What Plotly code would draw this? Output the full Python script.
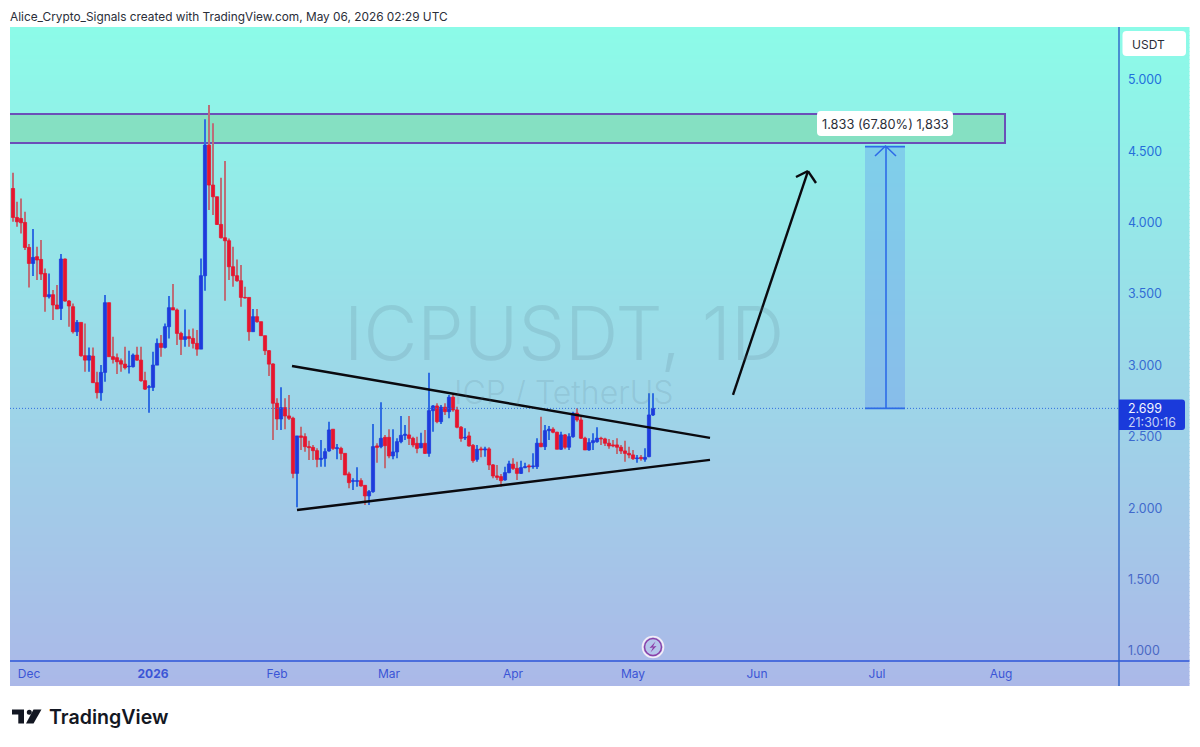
import pandas as pd
import plotly.graph_objects as go

FONT = "Inter"
first_day = "2025-11-27"

# Daily ICPUSDT candles, one row per list index
opens = [4.239,4.036,4.029,4.001,3.826,3.714,3.761,3.742,3.644,3.481,3.495,3.423,3.399,3.745,3.451,3.411,3.236,3.301,3.068,3.037,3.065,2.879,2.809,2.951,3.439,3.061,3.054,3.033,3.009,2.991,2.991,3.072,3.037,2.893,2.846,2.846,3.002,3.154,3.126,3.271,3.404,3.388,3.224,3.182,3.201,3.189,3.154,3.114,3.628,4.543,4.263,4.181,3.987,3.894,3.873,3.691,3.628,3.593,3.476,3.476,3.236,3.341,3.306,3.208,3.103,
         3.010,2.735,2.625,2.704,2.646,2.630,2.244,2.506,2.501,2.431,2.426,2.403,2.342,2.349,2.401,2.553,2.417,2.419,2.384,2.240,2.188,2.188,2.193,2.160,2.086,2.116,2.436,2.431,2.496,2.496,2.366,2.394,2.466,2.510,2.513,2.489,2.454,2.424,2.454,2.384,2.683,2.716,2.606,2.707,2.676,2.777,2.688,2.567,2.492,2.506,2.440,2.342,2.415,2.408,2.415,
         2.303,2.226,2.221,2.198,2.249,2.308,2.279,2.244,2.284,2.296,2.291,2.291,2.455,2.431,2.543,2.553,2.532,2.413,2.513,2.427,2.501,2.665,2.618,2.490,2.408,2.459,2.466,2.490,2.485,2.455,2.443,2.443,2.427,2.401,2.384,2.373,2.347,2.356,2.343,2.361,2.653]
highs = [4.349,4.146,4.169,4.076,3.850,3.955,3.831,3.878,3.679,3.644,3.528,3.563,3.780,3.749,3.458,3.434,3.318,3.301,3.294,3.126,3.126,2.956,3.002,3.493,3.439,3.201,3.084,3.049,3.131,3.103,3.084,3.131,3.131,2.956,2.862,3.096,3.189,3.213,3.294,3.486,3.570,3.399,3.236,3.392,3.252,3.259,3.248,3.749,4.723,4.823,4.695,4.181,4.314,4.431,3.889,3.831,3.742,3.703,3.551,3.476,3.395,3.395,3.306,3.208,3.108,
         3.015,2.770,2.847,2.770,2.793,2.641,2.506,2.571,2.524,2.473,2.443,2.419,2.478,2.419,2.606,2.553,2.450,2.431,2.384,2.256,2.209,2.286,2.209,2.163,2.128,2.590,2.454,2.742,2.513,2.553,2.553,2.489,2.646,2.583,2.646,2.501,2.501,2.529,2.548,2.949,2.723,2.735,2.723,2.735,2.793,2.800,2.711,2.576,2.560,2.536,2.450,2.443,2.431,2.431,2.426,
         2.310,2.303,2.240,2.291,2.333,2.349,2.326,2.333,2.319,2.308,2.384,2.490,2.641,2.583,2.576,2.567,2.536,2.536,2.520,2.525,2.676,2.700,2.653,2.501,2.490,2.525,2.567,2.501,2.494,2.485,2.478,2.490,2.443,2.473,2.431,2.408,2.373,2.373,2.420,2.805,2.805]
lows = [4.006,3.971,3.924,3.808,3.546,3.626,3.598,3.598,3.376,3.469,3.318,3.395,3.318,3.446,3.271,3.224,3.206,3.061,2.956,2.956,2.879,2.769,2.753,2.886,3.061,3.014,2.939,2.956,2.972,2.944,2.986,3.033,2.886,2.827,2.669,2.820,3.002,3.061,3.119,3.189,3.388,3.142,3.072,3.131,3.131,3.119,3.068,3.114,3.523,4.088,4.053,3.983,3.889,3.453,3.598,3.551,3.586,3.411,3.469,3.173,3.236,3.299,3.208,3.072,2.925,
        2.478,2.548,2.548,2.553,2.618,2.209,2.006,2.408,2.396,2.338,2.338,2.286,2.291,2.291,2.396,2.408,2.342,2.338,2.233,2.139,2.128,2.151,2.151,2.023,2.023,2.109,2.319,2.419,2.279,2.349,2.342,2.349,2.454,2.478,2.443,2.426,2.384,2.419,2.380,2.361,2.536,2.595,2.590,2.653,2.630,2.676,2.560,2.466,2.478,2.431,2.319,2.326,2.356,2.361,2.268,
        2.209,2.198,2.151,2.193,2.244,2.268,2.198,2.240,2.279,2.251,2.277,2.275,2.427,2.408,2.478,2.525,2.413,2.408,2.413,2.408,2.494,2.606,2.485,2.408,2.403,2.408,2.459,2.443,2.436,2.417,2.427,2.380,2.380,2.326,2.349,2.338,2.319,2.333,2.326,2.356,2.646]
closes = [4.036,4.006,3.999,3.826,3.714,3.756,3.738,3.640,3.481,3.495,3.423,3.395,3.745,3.451,3.416,3.236,3.301,3.068,3.037,3.068,2.879,2.809,2.951,3.439,3.061,3.042,3.026,3.009,2.984,2.995,3.072,3.037,2.893,2.834,2.851,3.002,3.154,3.126,3.271,3.404,3.388,3.224,3.182,3.201,3.189,3.154,3.114,3.628,4.543,4.263,4.181,3.987,3.894,3.873,3.691,3.628,3.593,3.476,3.472,3.236,3.341,3.306,3.208,3.103,3.009,
          2.735,2.625,2.704,2.646,2.630,2.244,2.506,2.496,2.431,2.424,2.403,2.342,2.349,2.396,2.548,2.419,2.424,2.384,2.233,2.179,2.193,2.193,2.156,2.086,2.116,2.431,2.426,2.489,2.438,2.366,2.394,2.466,2.510,2.518,2.489,2.443,2.419,2.454,2.384,2.683,2.716,2.606,2.707,2.676,2.777,2.688,2.567,2.489,2.496,2.436,2.333,2.412,2.408,2.415,2.303,
          2.226,2.216,2.193,2.249,2.310,2.279,2.244,2.284,2.291,2.289,2.296,2.455,2.431,2.543,2.553,2.532,2.413,2.513,2.427,2.501,2.665,2.618,2.490,2.408,2.459,2.473,2.490,2.485,2.455,2.436,2.436,2.427,2.401,2.384,2.373,2.347,2.352,2.347,2.356,2.653,2.699]

price_ticks = [1.0, 1.5, 2.0, 2.5, 3.0, 3.5, 4.0, 4.5, 5.0]
price_tick_colors = ["#4A68C4", "#4668C8", "#4069CC", "#3C6ACF", "#366BD2", "#306CD5", "#2B6DD8", "#256EDA", "#206FDC"]
month_ticks = ["2025-12-01", "2026-01-01", "2026-02-01", "2026-03-01", "2026-04-01", "2026-05-01", "2026-06-01", "2026-07-01", "2026-08-01"]
month_labels = ["Dec", "<b>2026</b>", "Feb", "Mar", "Apr", "May", "Jun", "Jul", "Aug"]

zone_low, zone_high = 4.557, 4.76
zone_dates = ["2025-11-01", "2026-08-02"]
target_dates = ["2026-06-28", "2026-07-08"]
target_mid = "2026-07-03 06:00"
upper_trend_dates = ["2026-02-04 18:00", "2026-05-20 06:00"]
upper_trend_prices = [2.996, 2.492]
lower_trend_dates = ["2026-02-06", "2026-05-20 06:00"]
lower_trend_prices = [1.987, 2.338]
arrow_dates = ["2026-05-26", "2026-06-13 18:00"]
arrow_prices = [2.793, 4.361]
arrow_wing_dates = ["2026-06-10 18:00", "2026-06-15 18:00"]
arrow_wing_prices = [4.319, 4.277]
last_price = closes[-1]
target_move = 1.833
target_price = last_price + target_move

dates = pd.date_range(first_day, periods=len(closes), freq="D")

L, R, T, B = 10, 1119, 27, 661
DAY_MS = 86400000
def X(px): return (px - L) / (R - L)
def Y(py): return (B - py) / (B - T)

def lerp_color(c0, c1, t):
    return "rgb(%d,%d,%d)" % tuple(round(a + (b - a) * t) for a, b in zip(c0, c1))

def rounded(x0, y0, x1, y1, r=4, rl=None):
    rl = r if rl is None else rl
    return (f"M {X(x0+rl)} {Y(y0)} L {X(x1-r)} {Y(y0)} Q {X(x1)} {Y(y0)} {X(x1)} {Y(y0+r)} "
            f"L {X(x1)} {Y(y1-r)} Q {X(x1)} {Y(y1)} {X(x1-r)} {Y(y1)} L {X(x0+rl)} {Y(y1)} "
            f"Q {X(x0)} {Y(y1)} {X(x0)} {Y(y1-rl)} L {X(x0)} {Y(y0+rl)} Q {X(x0)} {Y(y0)} {X(x0+rl)} {Y(y0)} Z")

shapes = []
# page gradient, behind everything
top_c, bot_c = (140, 251, 232), (171, 184, 232)
strip_top, strip_bot, step = 27, 686, 4
for yy in range(strip_top, strip_bot, step):
    t = (yy - strip_top) / (strip_bot - strip_top)
    col = lerp_color(top_c, bot_c, t)
    shapes.append(dict(type="rect", xref="paper", yref="paper", layer="below",
                       x0=X(10), x1=X(1189.5), y0=Y(yy), y1=Y(min(yy + step + 1, strip_bot)),
                       fillcolor=col, line=dict(width=0)))
# resistance zone
shapes.append(dict(type="rect", xref="x", yref="y", layer="below", x0=zone_dates[0], x1=zone_dates[1],
                   y0=zone_low, y1=zone_high, fillcolor="#85E0C2", line=dict(color="#6B4FB8", width=2)))
# target box
shapes.append(dict(type="rect", xref="x", yref="y", layer="below", x0=target_dates[0], x1=target_dates[1],
                   y0=last_price, y1=target_price, fillcolor="rgba(90,140,240,0.32)", line=dict(width=0)))
blue_line = dict(color="#2D6BE8", width=1.6)
for p in (last_price, target_price):
    shapes.append(dict(type="line", xref="x", yref="y", x0=target_dates[0], x1=target_dates[1], y0=p, y1=p, line=blue_line))
shapes.append(dict(type="line", xref="x", yref="y", x0=target_mid, x1=target_mid, y0=last_price, y1=target_price, line=blue_line))
shapes.append(dict(type="path", xref="paper", yref="paper",
                   path=f"M {X(875)} {Y(156)} L {X(885.5)} {Y(146)} L {X(896)} {Y(156)}", line=blue_line))
# price line
shapes.append(dict(type="line", xref="paper", yref="y", x0=0, x1=1, y0=last_price, y1=last_price,
                   line=dict(color="#2F6FE0", width=1, dash="1px,2px")))
# trend lines + arrow
black = dict(color="#0A0A0F", width=2.4)
shapes.append(dict(type="line", x0=upper_trend_dates[0], x1=upper_trend_dates[1], y0=upper_trend_prices[0], y1=upper_trend_prices[1], line=black))
shapes.append(dict(type="line", x0=lower_trend_dates[0], x1=lower_trend_dates[1], y0=lower_trend_prices[0], y1=lower_trend_prices[1], line=black))
shapes.append(dict(type="line", x0=arrow_dates[0], x1=arrow_dates[1], y0=arrow_prices[0], y1=arrow_prices[1], line=black))
for d, p in zip(arrow_wing_dates, arrow_wing_prices):
    shapes.append(dict(type="line", x0=d, x1=arrow_dates[1], y0=p, y1=arrow_prices[1], line=black))
# axis frame
axis_col = "#2D55D8"
shapes.append(dict(type="line", xref="paper", yref="paper", x0=X(10), x1=X(1189.5), y0=Y(661), y1=Y(661), line=dict(color=axis_col, width=1.4)))
shapes.append(dict(type="line", xref="paper", yref="paper", x0=X(1119), x1=X(1119), y0=Y(27), y1=Y(686), line=dict(color="#2D62C8", width=1.4)))
# label boxes
shapes.append(dict(type="path", xref="paper", yref="paper", path=rounded(817, 111, 953, 136), fillcolor="white", line=dict(width=0)))
shapes.append(dict(type="path", xref="paper", yref="paper", path=rounded(1122.5, 31, 1186, 56), fillcolor="white", line=dict(width=0)))
shapes.append(dict(type="path", xref="paper", yref="paper", path=rounded(1119, 399.5, 1185, 430, r=3, rl=0.5), fillcolor="#1A3ADB", line=dict(width=0)))
# lightning badge
shapes.append(dict(type="circle", xref="paper", yref="paper", x0=X(642.5), x1=X(663.5), y0=Y(657.5), y1=Y(636.5),
                   fillcolor="rgba(255,255,255,0.15)", line=dict(color="#F4ECF8", width=1.6)))
shapes.append(dict(type="circle", xref="paper", yref="paper", x0=X(644.5), x1=X(661.5), y0=Y(655.5), y1=Y(638.5),
                   fillcolor="rgba(0,0,0,0)", line=dict(color="#8C3FA8", width=1.5)))
shapes.append(dict(type="path", xref="paper", yref="paper",
                   path=f"M {X(655.5)} {Y(641.5)} L {X(649.5)} {Y(648)} L {X(653)} {Y(647.5)} L {X(650.5)} {Y(652.5)} L {X(656.5)} {Y(646)} L {X(653)} {Y(646.5)} Z",
                   fillcolor="#8C3FA8", line=dict(width=0)))
# TradingView logo
logo = "#131722"
for path in (
    f"M {X(12)} {Y(709.5)} L {X(24)} {Y(709.5)} L {X(24)} {Y(723.5)} L {X(18.3)} {Y(723.5)} L {X(18.3)} {Y(714.5)} L {X(12)} {Y(714.5)} Z",
    f"M {X(33.5)} {Y(709.5)} L {X(41.5)} {Y(709.5)} L {X(33.5)} {Y(723.5)} L {X(26)} {Y(723.5)} Z",
):
    shapes.append(dict(type="path", xref="paper", yref="paper", path=path, fillcolor=logo, line=dict(width=0)))
shapes.append(dict(type="circle", xref="paper", yref="paper", x0=X(26.8), x1=X(31.8), y0=Y(714.7), y1=Y(709.7), fillcolor=logo, line=dict(width=0)))

def note(text, x, y, size, color, xanchor="left", weight=None):
    font = dict(family=FONT, size=size, color=color)
    if weight:
        font["weight"] = weight
    return dict(xref="paper", yref="paper", x=X(x), y=Y(y), text=text, showarrow=False,
                xanchor=xanchor, yanchor="middle", font=font, xshift=-2 if xanchor == "left" else 0)

annotations = [
    note("Alice_Crypto_Signals created with TradingView.com, May 06, 2026 02:29 UTC", 10, 17, 11.85, "#2A2E39"),
    note("ICPUSDT, 1D", 563.5, 333, 74, "rgba(90,120,140,0.18)", "center", weight=300),
    note("ICP / TetherUS", 564, 392, 32, "rgba(90,120,140,0.18)", "center", weight=300),
    note("1.833 (67.80%) 1,833", 885, 124, 12.8, "#2A2E39", "center"),
    note("USDT", 1132, 44, 12, "#2A2E39"),
    note("2.699", 1128, 408, 12.4, "#F2F5FF"),
    note("21:30:16", 1128, 422.5, 12.4, "#C3D0F6"),
    note("TradingView", 49, 717, 19.6, "#131722", weight=600),
]

up = [c >= o for o, c in zip(opens, closes)]
wick_colors = ["#2F6EE2" if u else "#BC6E78" for u in up]
body_colors = ["#1E3BDC" if u else "#E6152E" for u in up]

fig = go.Figure()
fig.add_trace(go.Bar(x=dates, base=lows, y=[h - l for h, l in zip(highs, lows)], width=0.27 * DAY_MS,
                     marker=dict(color=wick_colors, line=dict(width=0)), hoverinfo="skip", showlegend=False))
fig.add_trace(go.Bar(x=dates, base=[min(o, c) for o, c in zip(opens, closes)],
                     y=[abs(c - o) for o, c in zip(opens, closes)], width=0.8 * DAY_MS,
                     marker=dict(color=body_colors, line=dict(color=body_colors, width=0.8)),
                     hoverinfo="skip", showlegend=False))

fig.update_layout(
    width=1200, height=747, autosize=False,
    margin=dict(l=L, r=1200 - R, t=T, b=747 - B, pad=0),
    paper_bgcolor="white", plot_bgcolor="rgba(0,0,0,0)",
    showlegend=False, hovermode=False, barmode="overlay",
    shapes=shapes, annotations=annotations,
    font=dict(family=FONT),
    xaxis=dict(type="date", range=["2025-11-26 06:00", "2026-08-30 12:00"],
               showgrid=False, zeroline=False, showline=False, tickmode="array", tickvals=month_ticks,
               ticktext=month_labels, ticks="", ticklabelstandoff=4, tickangle=0,
               tickfont=dict(family=FONT, size=12, color="#3B55D6")),
    yaxis=dict(side="right", range=[1 - 10 / 142.8, 1 + 624 / 142.8], showgrid=False, zeroline=False, showline=False,
               tickmode="array", tickvals=price_ticks,
               ticktext=[f'<span style="color:{c}">{v:.3f}</span>' for v, c in zip(price_ticks, price_tick_colors)],
               ticks="", ticklabelstandoff=8, tickfont=dict(family=FONT, size=12.4)),
)
fig.write_html("out.html", config=dict(displayModeBar=False),
               post_script="document.body.style.margin='0';")
